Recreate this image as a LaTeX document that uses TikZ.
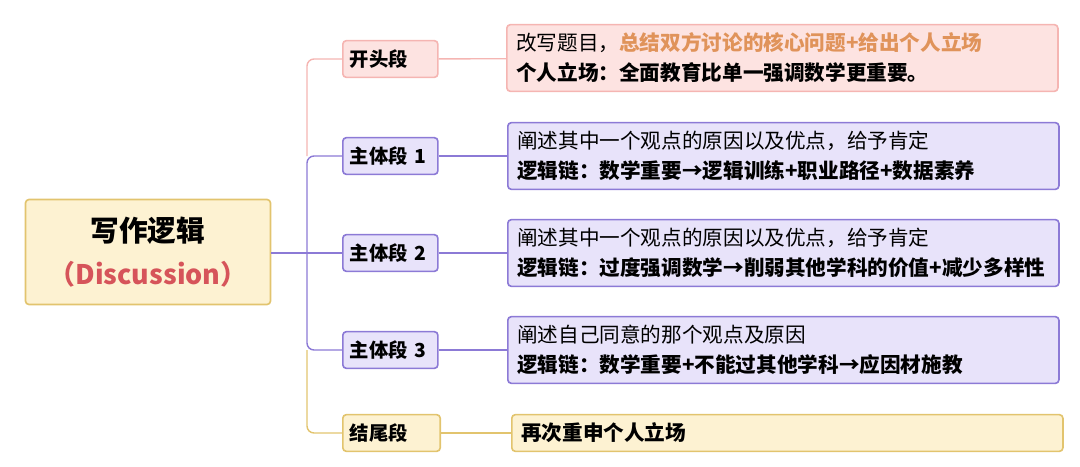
\documentclass[tikz,border=0pt]{standalone}
\usepackage{fontspec}
\setmainfont{Noto Sans CJK SC}
\usetikzlibrary{positioning}
\definecolor{pinkfill}{HTML}{FDE3E1}
\definecolor{pinkline}{HTML}{F5B5B2}
\definecolor{purpfill}{HTML}{E8E3FA}
\definecolor{purpline}{HTML}{8C7AD6}
\definecolor{goldfill}{HTML}{FDF2D2}
\definecolor{goldline}{HTML}{E2C46E}
\definecolor{orangetxt}{HTML}{E0935A}
\definecolor{redtxt}{HTML}{D6545A}

\begin{document}
\begin{tikzpicture}[x=0.03cm,y=-0.03cm]

\tikzset{box/.style={draw,line width=1.4pt,rounded corners=3pt,anchor=west,inner sep=0pt},
topic/.style={box,minimum height=1.1cm,text width=2.43cm,align=left,font=\fontsize{16.5}{18}\selectfont\bfseries,inner xsep=6pt},
detail/.style={box,minimum height=2cm,text width=15.97cm,align=left,font=\fontsize{17.6}{25.5}\selectfont,inner xsep=8pt},
link/.style={line width=1.2pt,rounded corners=6pt}}

\useasboundingbox (0,0) rectangle (1080,466);

% Root
\node[box,draw=goldline,fill=goldfill,anchor=center,minimum width=7.35cm,minimum height=3.15cm,align=center,font=\fontsize{24.5}{37}\selectfont\bfseries] (root) at (148,252)
 {写作逻辑\\{\fontsize{23}{37}\selectfont\color{redtxt}（Discussion）}};

% Topics
\node[topic,draw=pinkline,fill=pinkfill] (open) at (342,59) {开头段};
\node[topic,draw=purpline,fill=purpfill] (body1) at (342,156) {主体段 1};
\node[topic,draw=purpline,fill=purpfill] (body2) at (342,253) {主体段 2};
\node[topic,draw=purpline,fill=purpfill] (body3) at (342,350) {主体段 3};
\node[topic,draw=goldline,fill=goldfill,text width=2.5cm] (close) at (342,433) {结尾段};

% Details
\node[detail,draw=pinkline,fill=pinkfill] (openD) at (506,58) {改写题目，\textbf{\color{orangetxt}总结双方讨论的核心问题+给出个人立场}\\\textbf{个人立场：全面教育比单一强调数学更重要。}};
\node[detail,draw=purpline,fill=purpfill] (body1D) at (507,156) {阐述其中一个观点的原因以及优点，给予肯定\\\textbf{逻辑链：数学重要→逻辑训练+职业路径+数据素养}};
\node[detail,draw=purpline,fill=purpfill] (body2D) at (507,253) {阐述其中一个观点的原因以及优点，给予肯定\\\textbf{逻辑链：过度强调数学→削弱其他学科的价值+减少多样性}};
\node[detail,draw=purpline,fill=purpfill] (body3D) at (507,350) {阐述自己同意的那个观点及原因\\\textbf{逻辑链：数学重要+不能过其他学科→应因材施教}};
\node[detail,draw=goldline,fill=goldfill,minimum height=1.1cm] (closeD) at (511,433) {\textbf{再次重申个人立场}};

% Edges
\coordinate (trunk) at (307,253);
\draw[link,draw=pinkline] (trunk |- body1) -- (trunk |- open) -- (open);
\draw[link,draw=goldline] (trunk |- body3) -- (trunk |- close) -- (close);
\draw[link,draw=purpline] (root.east |- trunk) -- (body2);
\draw[link,draw=purpline] (body1) -- (trunk |- body1) -- (trunk |- body3) -- (body3);
\draw[link,draw=pinkline] (open) -- (openD);
\draw[link,draw=purpline] (body1) -- (body1D);
\draw[link,draw=purpline] (body2) -- (body2D);
\draw[link,draw=purpline] (body3) -- (body3D);
\draw[link,draw=goldline] (close) -- (closeD);

\end{tikzpicture}
\end{document}
